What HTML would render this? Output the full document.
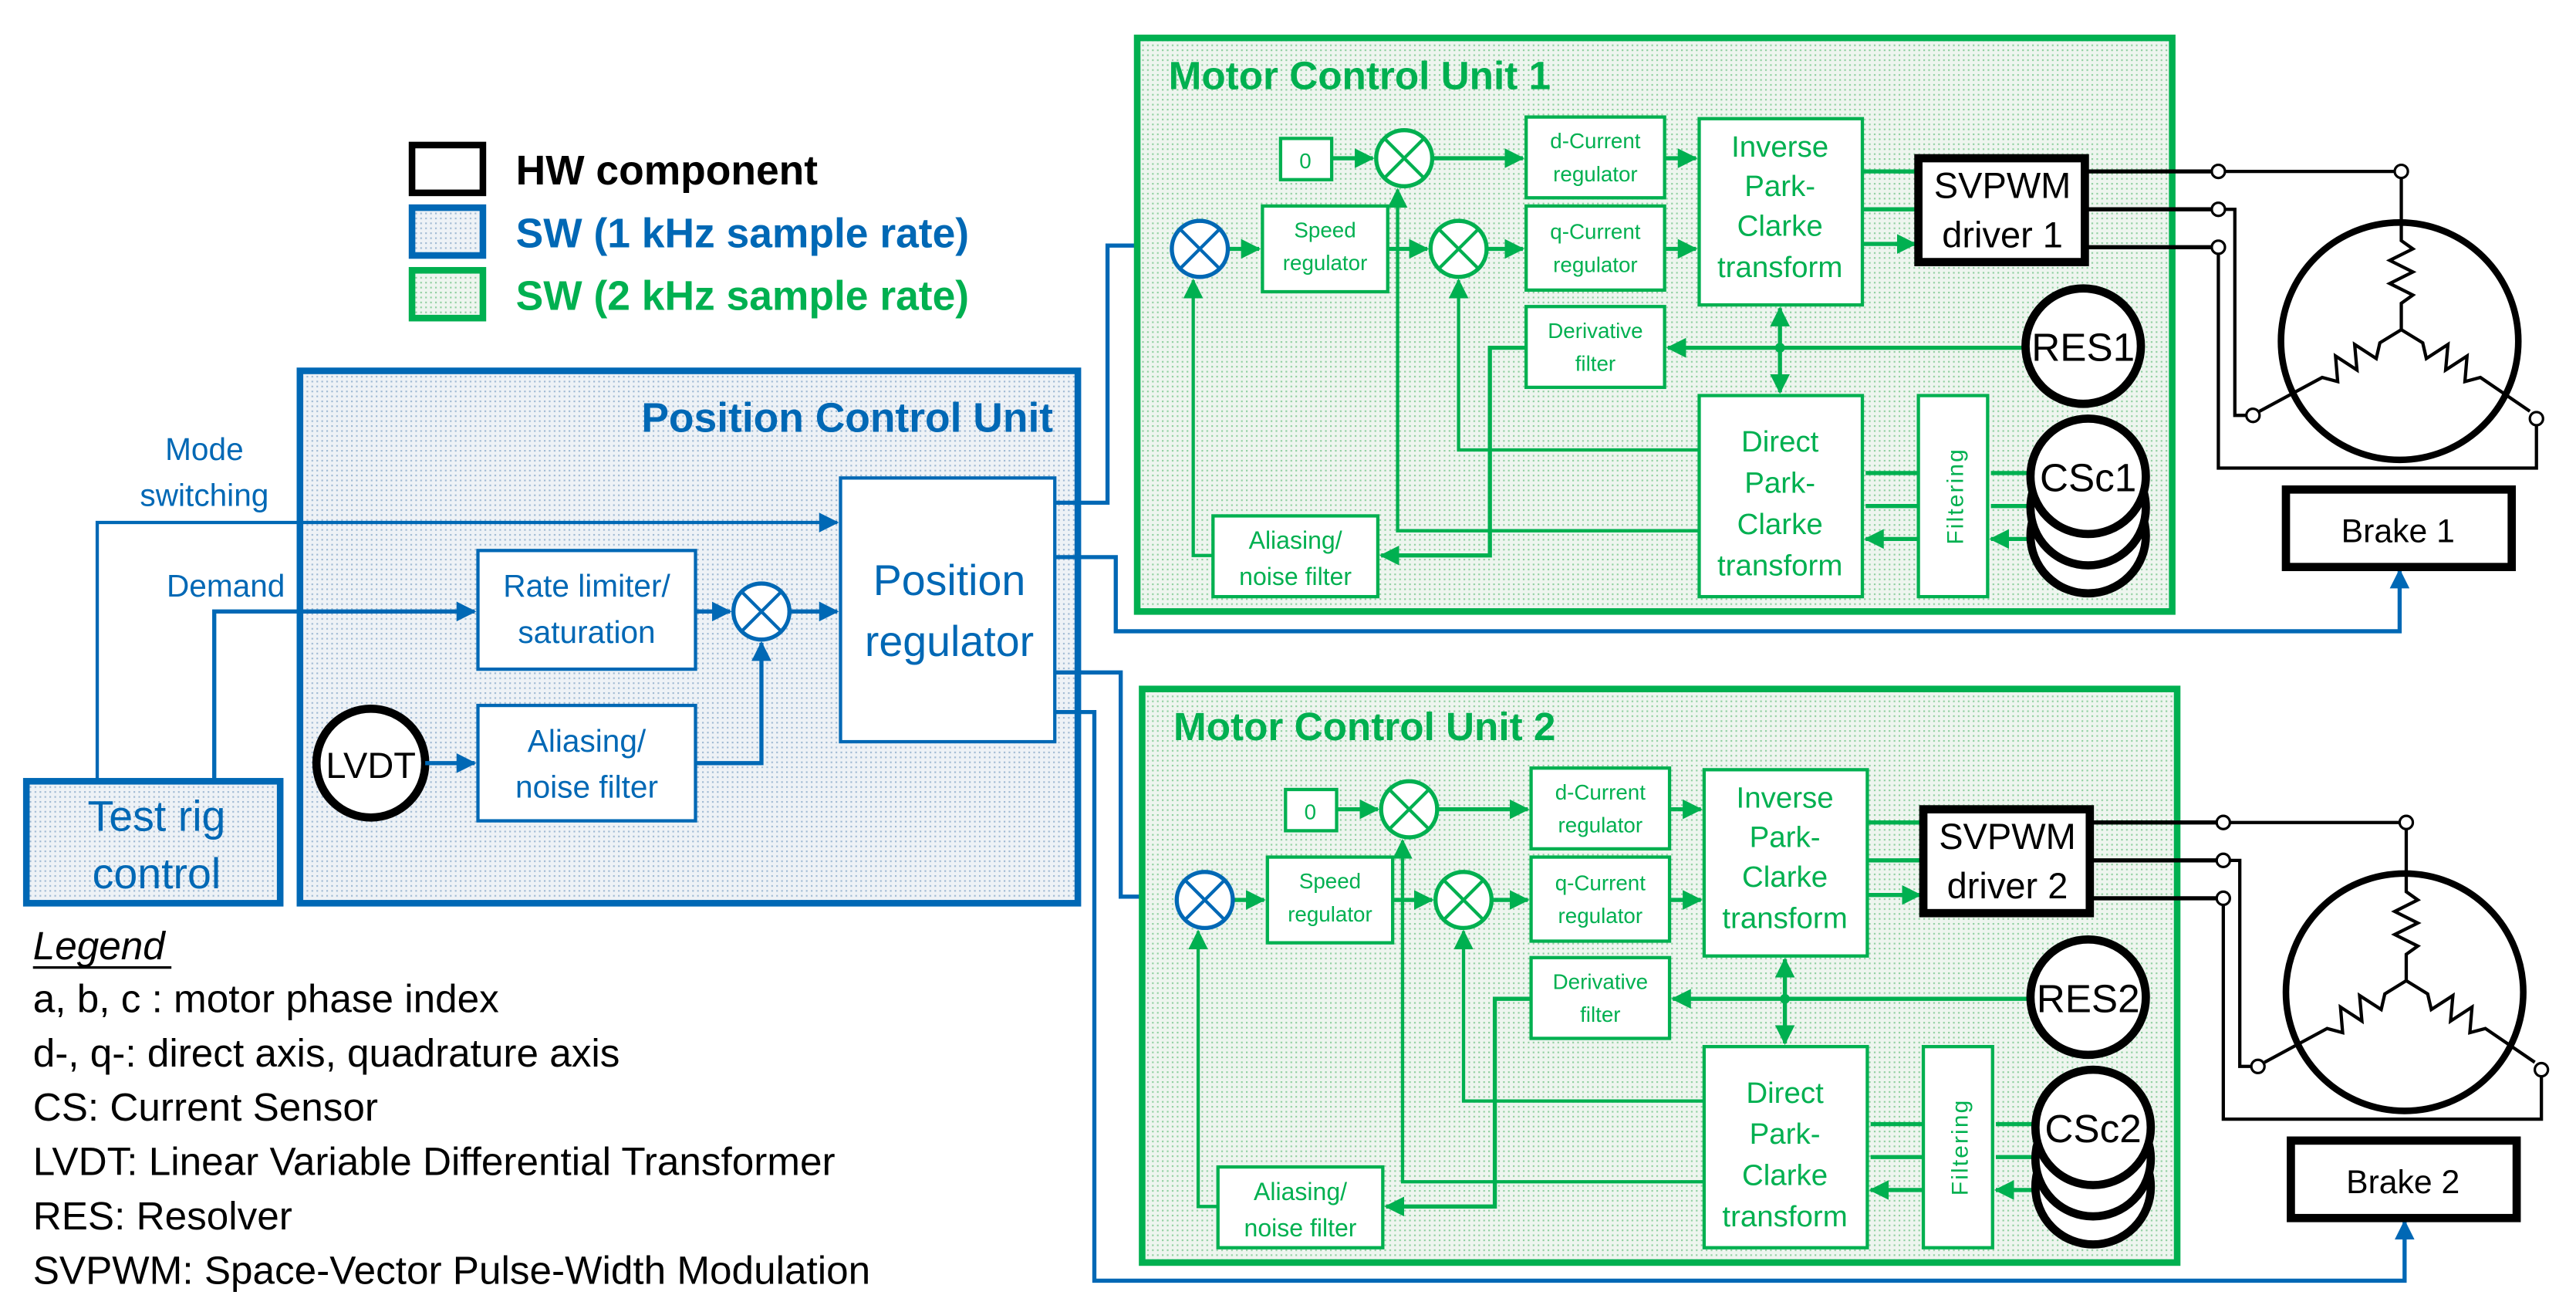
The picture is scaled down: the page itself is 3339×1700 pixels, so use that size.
<!DOCTYPE html>
<html><head><meta charset="utf-8"><style>
html,body{margin:0;padding:0;background:#fff}
svg{display:block}
text{font-family:"Liberation Sans Narrow","Liberation Sans",sans-serif}
</style></head><body>
<svg width="3339" height="1700" viewBox="0 0 1563 796" preserveAspectRatio="none" xmlns="http://www.w3.org/2000/svg">
<defs>
<marker id="ab" markerWidth="12" markerHeight="12" refX="11" refY="6" orient="auto" markerUnits="userSpaceOnUse"><path d="M0,0 L12,6 L0,12 z" fill="#0068b5"/></marker>
<marker id="ag" markerWidth="12" markerHeight="12" refX="11" refY="6" orient="auto" markerUnits="userSpaceOnUse"><path d="M0,0 L12,6 L0,12 z" fill="#00b050"/></marker>
<pattern id="pb" width="3" height="3" patternUnits="userSpaceOnUse"><rect width="3" height="3" fill="#eef2f6"/><rect width="1" height="1" fill="#9fb9d3"/></pattern>
<pattern id="pg" width="3" height="3" patternUnits="userSpaceOnUse"><rect width="3" height="3" fill="#eef5ef"/><rect width="1" height="1" fill="#8fcf9f"/></pattern>
</defs>

<rect x="250" y="88" width="43" height="29" fill="#fff" stroke="#000" stroke-width="4"/>
<rect x="250" y="126" width="43" height="29" fill="url(#pb)" stroke="#0068b5" stroke-width="4"/>
<rect x="250" y="164" width="43" height="29" fill="url(#pg)" stroke="#00b050" stroke-width="4"/>
<text x="313" y="112" font-size="25" font-weight="bold" fill="#000">HW component</text>
<text x="313" y="150" font-size="25" font-weight="bold" fill="#0068b5">SW (1 kHz sample rate)</text>
<text x="313" y="188" font-size="25" font-weight="bold" fill="#00b050">SW (2 kHz sample rate)</text>

<rect x="182" y="225" width="472" height="323" fill="url(#pb)" stroke="#0068b5" stroke-width="4"/>
<text x="639" y="262" font-size="25" font-weight="bold" fill="#0068b5" text-anchor="end">Position Control Unit</text>
<rect x="510" y="290" width="130" height="160" fill="#fff" stroke="#0068b5" stroke-width="2"/>
<text x="576" y="361" font-size="26" fill="#0068b5" text-anchor="middle">Position</text>
<text x="576" y="398" font-size="26" fill="#0068b5" text-anchor="middle">regulator</text>
<rect x="290" y="334" width="132" height="72" fill="#fff" stroke="#0068b5" stroke-width="2"/>
<text x="356" y="362" font-size="19" fill="#0068b5" text-anchor="middle">Rate limiter/</text>
<text x="356" y="390" font-size="19" fill="#0068b5" text-anchor="middle">saturation</text>
<rect x="290" y="428" width="132" height="70" fill="#fff" stroke="#0068b5" stroke-width="2"/>
<text x="356" y="456" font-size="19" fill="#0068b5" text-anchor="middle">Aliasing/</text>
<text x="356" y="484" font-size="19" fill="#0068b5" text-anchor="middle">noise filter</text>
<circle cx="462" cy="371" r="17" fill="#fff" stroke="#0068b5" stroke-width="2.5"/>
<path d="M450,359 L474,383 M474,359 L450,383" stroke="#0068b5" stroke-width="2"/>
<circle cx="225" cy="463" r="33" fill="#fff" stroke="#000" stroke-width="5"/>
<text x="225" y="472" font-size="22" fill="#000" text-anchor="middle">LVDT</text>
<rect x="16" y="474" width="154" height="74" fill="url(#pb)" stroke="#0068b5" stroke-width="4"/>
<text x="95" y="504" font-size="26" fill="#0068b5" text-anchor="middle">Test rig</text>
<text x="95" y="539" font-size="26" fill="#0068b5" text-anchor="middle">control</text>
<text x="124" y="279" font-size="19" fill="#0068b5" text-anchor="middle">Mode</text>
<text x="124" y="307" font-size="19" fill="#0068b5" text-anchor="middle">switching</text>
<text x="137" y="362" font-size="19" fill="#0068b5" text-anchor="middle">Demand</text>
<g fill="none" stroke="#0068b5">
<path d="M59,474 V317 H508" stroke-width="2" marker-end="url(#ab)"/>
<path d="M130,474 V371 H288" stroke-width="2.5" marker-end="url(#ab)"/>
<path d="M422,371 H443" stroke-width="2.5" marker-end="url(#ab)"/>
<path d="M479,371 H508" stroke-width="2.5" marker-end="url(#ab)"/>
<path d="M258,463 H288" stroke-width="2.5" marker-end="url(#ab)"/>
<path d="M422,463 H462 V390" stroke-width="2.5" marker-end="url(#ab)"/>
<path d="M640,305 H672 V149 H709" stroke-width="2.5" marker-end="url(#ab)"/>
<path d="M640,338 H677 V383 H1456 V346" stroke-width="2.5" marker-end="url(#ab)"/>
<path d="M640,408 H680 V544 H712" stroke-width="2.5" marker-end="url(#ab)"/>
<path d="M640,432 H664 V777 H1459 V741" stroke-width="2.5" marker-end="url(#ab)"/>
</g>

<text x="20" y="582" font-size="24" font-style="italic" fill="#000">Legend</text>
<line x1="20" y1="587" x2="104" y2="587" stroke="#000" stroke-width="1.5"/>
<text x="20" y="614" font-size="24" fill="#000">a, b, c : motor phase index</text>
<text x="20" y="647" font-size="24" fill="#000">d-, q-: direct axis, quadrature axis</text>
<text x="20" y="680" font-size="24" fill="#000">CS: Current Sensor</text>
<text x="20" y="713" font-size="24" fill="#000">LVDT: Linear Variable Differential Transformer</text>
<text x="20" y="746" font-size="24" fill="#000">RES: Resolver</text>
<text x="20" y="779" font-size="24" fill="#000">SVPWM: Space-Vector Pulse-Width Modulation</text>

<!-- MCU 1 -->
<g>
<rect x="690" y="23" width="628" height="348" fill="url(#pg)" stroke="#00b050" stroke-width="4"/>
<text x="709" y="54" font-size="24" font-weight="bold" fill="#00b050">Motor Control Unit 1</text>
<g fill="none" stroke="#00b050">
<path d="M1031,322 H848 V115" stroke-width="2" marker-end="url(#ag)"/>
<path d="M1031,273 H885 V170" stroke-width="2" marker-end="url(#ag)"/>
<path d="M926,211 H904 V337 H838" stroke-width="2.5" marker-end="url(#ag)"/>
<path d="M736,337 H724 V170" stroke-width="2" marker-end="url(#ag)"/>
<path d="M808,96 H833" stroke-width="2.5" marker-end="url(#ag)"/>
<path d="M869,96 H924" stroke-width="2.5" marker-end="url(#ag)"/>
<path d="M1010,96 H1029" stroke-width="2.5" marker-end="url(#ag)"/>
<path d="M745,151 H764" stroke-width="2.5" marker-end="url(#ag)"/>
<path d="M842,151 H866" stroke-width="2.5" marker-end="url(#ag)"/>
<path d="M902,151 H924" stroke-width="2.5" marker-end="url(#ag)"/>
<path d="M1010,151 H1029" stroke-width="2.5" marker-end="url(#ag)"/>
<path d="M1130,104 H1162 M1130,127 H1162 M1130,148 H1162" stroke-width="2.5"/>
<path d="M1150,104 H1162 M1150,127 H1162 M1150,148 H1162" stroke-width="2.5" marker-end="url(#ag)"/>
<path d="M1229,211 H1012" stroke-width="2.5" marker-end="url(#ag)"/>
<path d="M1080,211 V187" stroke-width="2.5" marker-end="url(#ag)"/>
<path d="M1080,211 V238" stroke-width="2.5" marker-end="url(#ag)"/>
<path d="M1231,287 H1208 M1231,307 H1208 M1231,327 H1208" stroke-width="2.5" marker-end="url(#ag)"/>
<path d="M1164,287 H1132 M1164,307 H1132 M1164,327 H1132" stroke-width="2.5" marker-end="url(#ag)"/>
</g>
<circle cx="1080" cy="211" r="3" fill="#00b050"/>
<rect x="777" y="84" width="31" height="25" fill="#fff" stroke="#00b050" stroke-width="2"/>
<text x="792" y="102" font-size="13" fill="#00b050" text-anchor="middle">0</text>
<circle cx="852" cy="96" r="17" fill="#fff" stroke="#00b050" stroke-width="2.5"/>
<path d="M840,84 L864,108 M864,84 L840,108" stroke="#00b050" stroke-width="2"/>
<circle cx="885" cy="151" r="17" fill="#fff" stroke="#00b050" stroke-width="2.5"/>
<path d="M873,139 L897,163 M897,139 L873,163" stroke="#00b050" stroke-width="2"/>
<circle cx="728" cy="151" r="17" fill="#fff" stroke="#0068b5" stroke-width="2.5"/>
<path d="M716,139 L740,163 M740,139 L716,163" stroke="#0068b5" stroke-width="2"/>
<rect x="926" y="71" width="84" height="49" fill="#fff" stroke="#00b050" stroke-width="2"/>
<text x="968" y="90" font-size="13" fill="#00b050" text-anchor="middle">d-Current</text>
<text x="968" y="110" font-size="13" fill="#00b050" text-anchor="middle">regulator</text>
<rect x="926" y="125" width="84" height="51" fill="#fff" stroke="#00b050" stroke-width="2"/>
<text x="968" y="145" font-size="13" fill="#00b050" text-anchor="middle">q-Current</text>
<text x="968" y="165" font-size="13" fill="#00b050" text-anchor="middle">regulator</text>
<rect x="766" y="125" width="76" height="52" fill="#fff" stroke="#00b050" stroke-width="2"/>
<text x="804" y="144" font-size="13" fill="#00b050" text-anchor="middle">Speed</text>
<text x="804" y="164" font-size="13" fill="#00b050" text-anchor="middle">regulator</text>
<rect x="1031" y="72" width="99" height="113" fill="#fff" stroke="#00b050" stroke-width="2"/>
<text x="1080" y="95" font-size="18" fill="#00b050" text-anchor="middle">Inverse</text>
<text x="1080" y="119" font-size="18" fill="#00b050" text-anchor="middle">Park-</text>
<text x="1080" y="143" font-size="18" fill="#00b050" text-anchor="middle">Clarke</text>
<text x="1080" y="168" font-size="18" fill="#00b050" text-anchor="middle">transform</text>
<rect x="926" y="186" width="84" height="49" fill="#fff" stroke="#00b050" stroke-width="2"/>
<text x="968" y="205" font-size="13" fill="#00b050" text-anchor="middle">Derivative</text>
<text x="968" y="225" font-size="13" fill="#00b050" text-anchor="middle">filter</text>
<rect x="1031" y="240" width="99" height="122" fill="#fff" stroke="#00b050" stroke-width="2"/>
<text x="1080" y="274" font-size="18" fill="#00b050" text-anchor="middle">Direct</text>
<text x="1080" y="299" font-size="18" fill="#00b050" text-anchor="middle">Park-</text>
<text x="1080" y="324" font-size="18" fill="#00b050" text-anchor="middle">Clarke</text>
<text x="1080" y="349" font-size="18" fill="#00b050" text-anchor="middle">transform</text>
<rect x="1164" y="240" width="42" height="122" fill="#fff" stroke="#00b050" stroke-width="2"/>
<text transform="translate(1191,301) rotate(-90)" font-size="14" fill="#00b050" text-anchor="middle" letter-spacing="1">Filtering</text>
<rect x="736" y="313" width="100" height="49" fill="#fff" stroke="#00b050" stroke-width="2"/>
<text x="786" y="333" font-size="15" fill="#00b050" text-anchor="middle">Aliasing/</text>
<text x="786" y="355" font-size="15" fill="#00b050" text-anchor="middle">noise filter</text>
<circle cx="1267" cy="325" r="35" fill="#fff" stroke="#000" stroke-width="5"/>
<circle cx="1267" cy="308" r="35" fill="#fff" stroke="#000" stroke-width="5"/>
<circle cx="1267" cy="289" r="35" fill="#fff" stroke="#000" stroke-width="5"/>
<text x="1267" y="298" font-size="24" fill="#000" text-anchor="middle">CSc1</text>
<circle cx="1264" cy="210" r="35" fill="#fff" stroke="#000" stroke-width="5"/>
<text x="1264" y="219" font-size="24" fill="#000" text-anchor="middle">RES1</text>
<rect x="1164" y="96" width="101" height="63" fill="#fff" stroke="#000" stroke-width="5"/>
<text x="1215" y="120" font-size="22" fill="#000" text-anchor="middle">SVPWM</text>
<text x="1215" y="150" font-size="22" fill="#000" text-anchor="middle">driver 1</text>
<g fill="none" stroke="#000">
<path d="M1266,104 H1342 M1266,127 H1342 M1266,150 H1342" stroke-width="2.5"/>
<path d="M1350,104 H1453 M1457,108 V134" stroke-width="2"/>
<path d="M1350,127 H1356 V252 H1363" stroke-width="2"/>
<path d="M1346,154 V284 H1539 V258" stroke-width="2"/>
<circle cx="1456" cy="207" r="72" stroke-width="4"/>
<polyline points="1457,135 1457,146 1464,151 1450,158 1464,165 1450,172 1464,179 1457,184 1457,200" stroke-width="2"/>
<polyline points="1457,200 1444,208 1441.8,217.5 1428.7,209 1430.1,224.5 1417.1,216 1418.4,231.5 1409,229 1371,249.5" stroke-width="2"/>
<polyline points="1457,200 1470,208 1472.2,217.5 1485.3,209 1483.9,224.5 1496.9,216 1495.6,231.5 1505,229 1535,249.5" stroke-width="2"/>
</g>
<g fill="#fff" stroke="#000" stroke-width="1.5">
<circle cx="1346" cy="104" r="4"/><circle cx="1346" cy="127" r="4"/><circle cx="1346" cy="150" r="4"/>
<circle cx="1457" cy="104" r="4"/><circle cx="1367" cy="252" r="4"/><circle cx="1539" cy="254" r="4"/>
</g>
<rect x="1387" y="297" width="137" height="47" fill="#fff" stroke="#000" stroke-width="5"/>
<text x="1455" y="329" font-size="20" fill="#000" text-anchor="middle">Brake 1</text>
</g>

<!-- MCU 2 -->
<g transform="translate(3,395)">
<rect x="690" y="23" width="628" height="348" fill="url(#pg)" stroke="#00b050" stroke-width="4"/>
<text x="709" y="54" font-size="24" font-weight="bold" fill="#00b050">Motor Control Unit 2</text>
<g fill="none" stroke="#00b050">
<path d="M1031,322 H848 V115" stroke-width="2" marker-end="url(#ag)"/>
<path d="M1031,273 H885 V170" stroke-width="2" marker-end="url(#ag)"/>
<path d="M926,211 H904 V337 H838" stroke-width="2.5" marker-end="url(#ag)"/>
<path d="M736,337 H724 V170" stroke-width="2" marker-end="url(#ag)"/>
<path d="M808,96 H833" stroke-width="2.5" marker-end="url(#ag)"/>
<path d="M869,96 H924" stroke-width="2.5" marker-end="url(#ag)"/>
<path d="M1010,96 H1029" stroke-width="2.5" marker-end="url(#ag)"/>
<path d="M745,151 H764" stroke-width="2.5" marker-end="url(#ag)"/>
<path d="M842,151 H866" stroke-width="2.5" marker-end="url(#ag)"/>
<path d="M902,151 H924" stroke-width="2.5" marker-end="url(#ag)"/>
<path d="M1010,151 H1029" stroke-width="2.5" marker-end="url(#ag)"/>
<path d="M1130,104 H1162 M1130,127 H1162 M1130,148 H1162" stroke-width="2.5"/>
<path d="M1150,104 H1162 M1150,127 H1162 M1150,148 H1162" stroke-width="2.5" marker-end="url(#ag)"/>
<path d="M1229,211 H1012" stroke-width="2.5" marker-end="url(#ag)"/>
<path d="M1080,211 V187" stroke-width="2.5" marker-end="url(#ag)"/>
<path d="M1080,211 V238" stroke-width="2.5" marker-end="url(#ag)"/>
<path d="M1231,287 H1208 M1231,307 H1208 M1231,327 H1208" stroke-width="2.5" marker-end="url(#ag)"/>
<path d="M1164,287 H1132 M1164,307 H1132 M1164,327 H1132" stroke-width="2.5" marker-end="url(#ag)"/>
</g>
<circle cx="1080" cy="211" r="3" fill="#00b050"/>
<rect x="777" y="84" width="31" height="25" fill="#fff" stroke="#00b050" stroke-width="2"/>
<text x="792" y="102" font-size="13" fill="#00b050" text-anchor="middle">0</text>
<circle cx="852" cy="96" r="17" fill="#fff" stroke="#00b050" stroke-width="2.5"/>
<path d="M840,84 L864,108 M864,84 L840,108" stroke="#00b050" stroke-width="2"/>
<circle cx="885" cy="151" r="17" fill="#fff" stroke="#00b050" stroke-width="2.5"/>
<path d="M873,139 L897,163 M897,139 L873,163" stroke="#00b050" stroke-width="2"/>
<circle cx="728" cy="151" r="17" fill="#fff" stroke="#0068b5" stroke-width="2.5"/>
<path d="M716,139 L740,163 M740,139 L716,163" stroke="#0068b5" stroke-width="2"/>
<rect x="926" y="71" width="84" height="49" fill="#fff" stroke="#00b050" stroke-width="2"/>
<text x="968" y="90" font-size="13" fill="#00b050" text-anchor="middle">d-Current</text>
<text x="968" y="110" font-size="13" fill="#00b050" text-anchor="middle">regulator</text>
<rect x="926" y="125" width="84" height="51" fill="#fff" stroke="#00b050" stroke-width="2"/>
<text x="968" y="145" font-size="13" fill="#00b050" text-anchor="middle">q-Current</text>
<text x="968" y="165" font-size="13" fill="#00b050" text-anchor="middle">regulator</text>
<rect x="766" y="125" width="76" height="52" fill="#fff" stroke="#00b050" stroke-width="2"/>
<text x="804" y="144" font-size="13" fill="#00b050" text-anchor="middle">Speed</text>
<text x="804" y="164" font-size="13" fill="#00b050" text-anchor="middle">regulator</text>
<rect x="1031" y="72" width="99" height="113" fill="#fff" stroke="#00b050" stroke-width="2"/>
<text x="1080" y="95" font-size="18" fill="#00b050" text-anchor="middle">Inverse</text>
<text x="1080" y="119" font-size="18" fill="#00b050" text-anchor="middle">Park-</text>
<text x="1080" y="143" font-size="18" fill="#00b050" text-anchor="middle">Clarke</text>
<text x="1080" y="168" font-size="18" fill="#00b050" text-anchor="middle">transform</text>
<rect x="926" y="186" width="84" height="49" fill="#fff" stroke="#00b050" stroke-width="2"/>
<text x="968" y="205" font-size="13" fill="#00b050" text-anchor="middle">Derivative</text>
<text x="968" y="225" font-size="13" fill="#00b050" text-anchor="middle">filter</text>
<rect x="1031" y="240" width="99" height="122" fill="#fff" stroke="#00b050" stroke-width="2"/>
<text x="1080" y="274" font-size="18" fill="#00b050" text-anchor="middle">Direct</text>
<text x="1080" y="299" font-size="18" fill="#00b050" text-anchor="middle">Park-</text>
<text x="1080" y="324" font-size="18" fill="#00b050" text-anchor="middle">Clarke</text>
<text x="1080" y="349" font-size="18" fill="#00b050" text-anchor="middle">transform</text>
<rect x="1164" y="240" width="42" height="122" fill="#fff" stroke="#00b050" stroke-width="2"/>
<text transform="translate(1191,301) rotate(-90)" font-size="14" fill="#00b050" text-anchor="middle" letter-spacing="1">Filtering</text>
<rect x="736" y="313" width="100" height="49" fill="#fff" stroke="#00b050" stroke-width="2"/>
<text x="786" y="333" font-size="15" fill="#00b050" text-anchor="middle">Aliasing/</text>
<text x="786" y="355" font-size="15" fill="#00b050" text-anchor="middle">noise filter</text>
<circle cx="1267" cy="325" r="35" fill="#fff" stroke="#000" stroke-width="5"/>
<circle cx="1267" cy="308" r="35" fill="#fff" stroke="#000" stroke-width="5"/>
<circle cx="1267" cy="289" r="35" fill="#fff" stroke="#000" stroke-width="5"/>
<text x="1267" y="298" font-size="24" fill="#000" text-anchor="middle">CSc2</text>
<circle cx="1264" cy="210" r="35" fill="#fff" stroke="#000" stroke-width="5"/>
<text x="1264" y="219" font-size="24" fill="#000" text-anchor="middle">RES2</text>
<rect x="1164" y="96" width="101" height="63" fill="#fff" stroke="#000" stroke-width="5"/>
<text x="1215" y="120" font-size="22" fill="#000" text-anchor="middle">SVPWM</text>
<text x="1215" y="150" font-size="22" fill="#000" text-anchor="middle">driver 2</text>
<g fill="none" stroke="#000">
<path d="M1266,104 H1342 M1266,127 H1342 M1266,150 H1342" stroke-width="2.5"/>
<path d="M1350,104 H1453 M1457,108 V134" stroke-width="2"/>
<path d="M1350,127 H1356 V252 H1363" stroke-width="2"/>
<path d="M1346,154 V284 H1539 V258" stroke-width="2"/>
<circle cx="1456" cy="207" r="72" stroke-width="4"/>
<polyline points="1457,135 1457,146 1464,151 1450,158 1464,165 1450,172 1464,179 1457,184 1457,200" stroke-width="2"/>
<polyline points="1457,200 1444,208 1441.8,217.5 1428.7,209 1430.1,224.5 1417.1,216 1418.4,231.5 1409,229 1371,249.5" stroke-width="2"/>
<polyline points="1457,200 1470,208 1472.2,217.5 1485.3,209 1483.9,224.5 1496.9,216 1495.6,231.5 1505,229 1535,249.5" stroke-width="2"/>
</g>
<g fill="#fff" stroke="#000" stroke-width="1.5">
<circle cx="1346" cy="104" r="4"/><circle cx="1346" cy="127" r="4"/><circle cx="1346" cy="150" r="4"/>
<circle cx="1457" cy="104" r="4"/><circle cx="1367" cy="252" r="4"/><circle cx="1539" cy="254" r="4"/>
</g>
<rect x="1387" y="297" width="137" height="47" fill="#fff" stroke="#000" stroke-width="5"/>
<text x="1455" y="329" font-size="20" fill="#000" text-anchor="middle">Brake 2</text>
</g>
</svg>
</body></html>
